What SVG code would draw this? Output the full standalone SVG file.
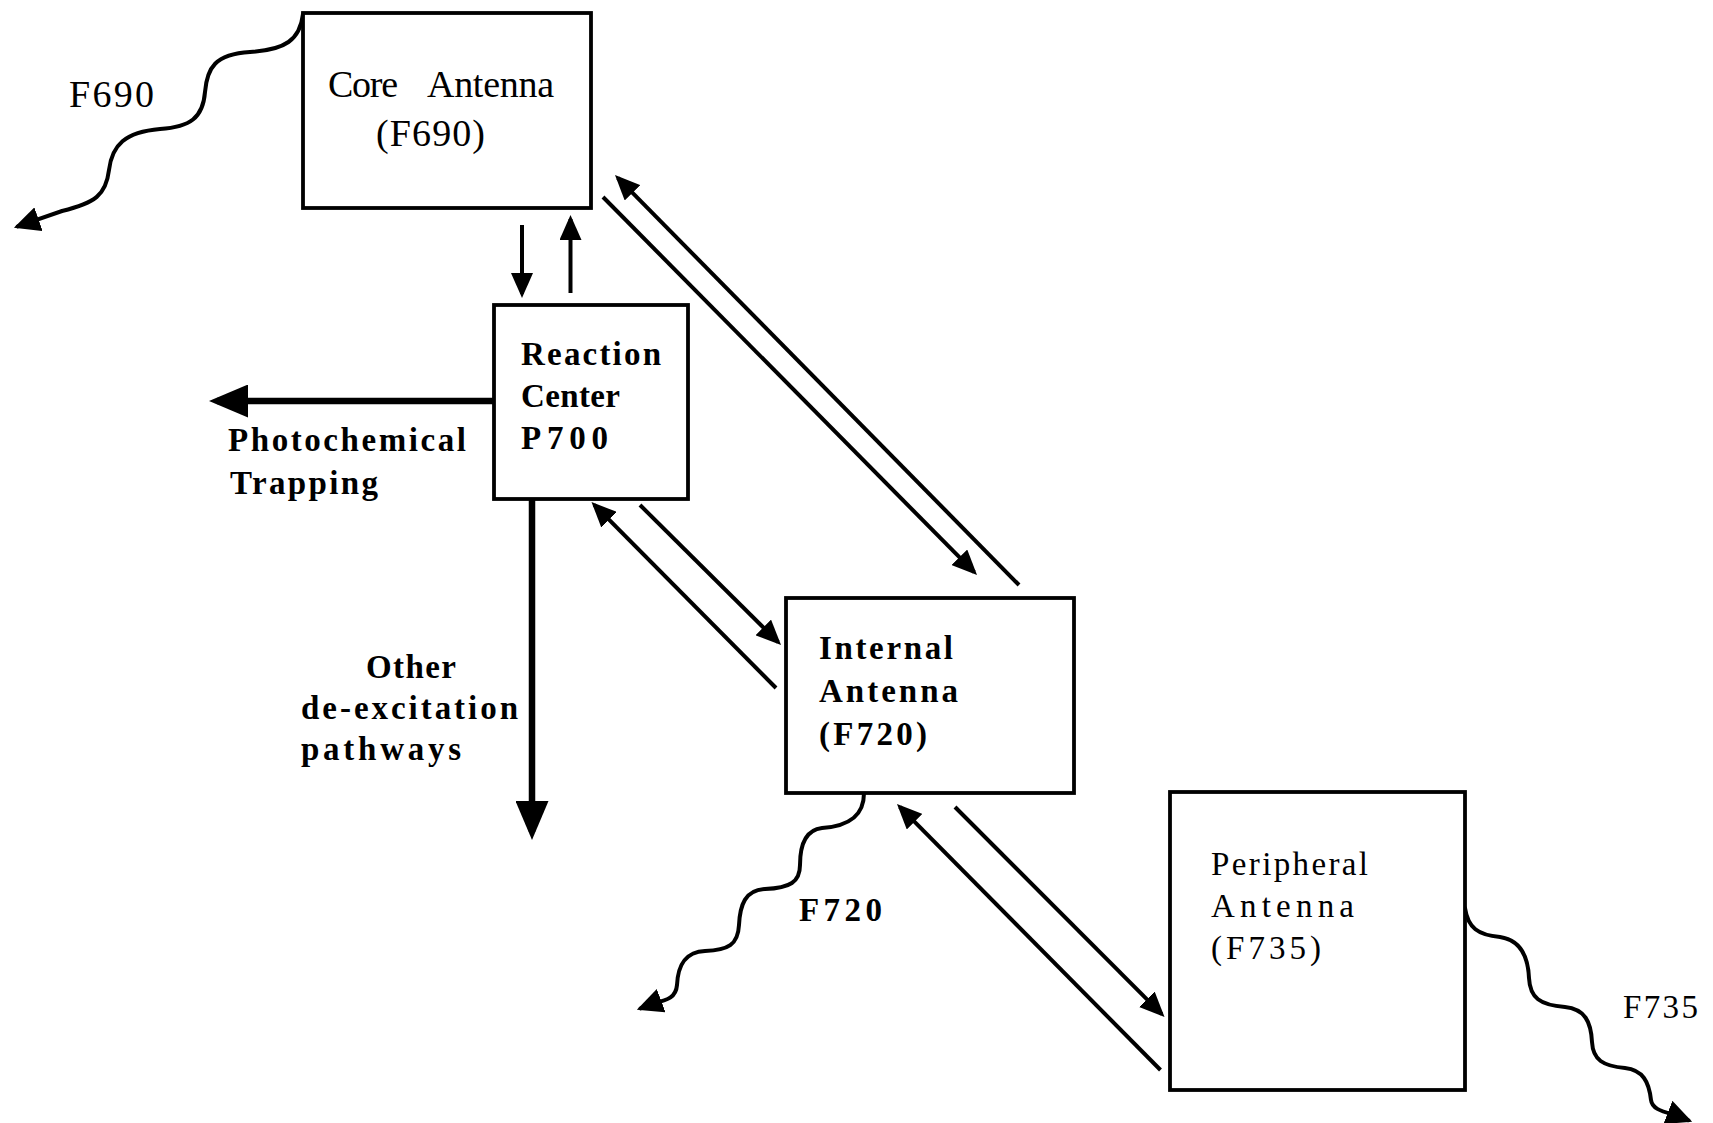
<svg xmlns="http://www.w3.org/2000/svg" width="1713" height="1123" viewBox="0 0 1713 1123">
<defs>
<marker id="ah" markerUnits="userSpaceOnUse" markerWidth="25" markerHeight="22" refX="21" refY="11" orient="auto" viewBox="0 0 25 22"><path d="M0,0 L25,11 L0,22 z" fill="#000"/></marker>
<marker id="ahw" markerUnits="userSpaceOnUse" markerWidth="26" markerHeight="25" refX="22" refY="12.5" orient="auto" viewBox="0 0 26 25"><path d="M0,0 L26,12.5 L0,25 z" fill="#000"/></marker>
<marker id="ahBig" markerUnits="userSpaceOnUse" markerWidth="39" markerHeight="33" refX="31" refY="16.5" orient="auto" viewBox="0 0 39 33"><path d="M0,0 L39,16.5 L0,33 z" fill="#000"/></marker>
<style>
.box{fill:#fff;stroke:#000;stroke-width:3.8}
.ln{fill:none;stroke:#000;stroke-width:4;marker-end:url(#ah)}
.thick{fill:none;stroke:#000;stroke-width:6.5;marker-end:url(#ahBig)}
.wave{fill:none;stroke:#000;stroke-width:4;stroke-linecap:round;marker-end:url(#ahw)}
.reg{font-family:"Liberation Serif","Times New Roman",serif;font-size:38px;fill:#000}
.lab{font-family:"Liberation Serif","Times New Roman",serif;font-size:33px;font-weight:bold;fill:#000}
.per{font-family:"Liberation Serif","Times New Roman",serif;font-size:33px;fill:#000}
</style>
</defs>
<rect width="1713" height="1123" fill="#fff"/>
<g id="connectors">
<line class="ln" x1="603" y1="197" x2="974.2" y2="572.2"/>
<line class="ln" x1="1019" y1="585" x2="617.8" y2="177.8"/>
<line class="ln" x1="640" y1="505" x2="778.2" y2="642.2"/>
<line class="ln" x1="776" y1="688" x2="594.3" y2="504.8"/>
<line class="ln" x1="955" y1="807" x2="1161.7" y2="1014.2"/>
<line class="ln" x1="1160.5" y1="1070" x2="899.8" y2="806.8"/>
<line class="ln" x1="522" y1="225" x2="522" y2="294"/>
<line class="ln" x1="570.5" y1="293" x2="570.5" y2="219"/>
<line class="thick" x1="494" y1="401" x2="217" y2="401"/>
<line class="thick" x1="532" y1="499" x2="532" y2="832"/>
<path class="wave" d="M303,14 C300,40 285,50 250,52 C215,54 207,68 205,92 C203,118 190,127 160,129 C125,132 112,145 109,170 C106,195 95,203 62,211 L17.7,226.4"/>
<path class="wave" d="M864,793 C864,815 850,826 822,828 C805,830 800,845 800,865 C800,882 790,888 765,889 C745,890 740,905 739,925 C738,945 728,950 705,951 C685,952 678,965 677,985 C676,997 668,1000 655,1003 L640.6,1008.4"/>
<path class="wave" d="M1465,908 C1468,928 1478,935 1500,937 C1520,940 1528,955 1529,978 C1530,998 1540,1005 1565,1007 C1585,1009 1591,1022 1592,1042 C1593,1060 1603,1066 1625,1068 C1643,1070 1649,1082 1651,1100 C1652,1108 1660,1111 1672,1114 L1688.4,1120.3"/>
</g>
<g id="core-antenna">
<rect class="box" x="303" y="13" width="288" height="195"/>
<text class="reg" x="328" y="97" textLength="70" lengthAdjust="spacing">Core</text>
<text class="reg" x="427" y="97" textLength="127" lengthAdjust="spacing">Antenna</text>
<text class="reg" x="376" y="146" textLength="109" lengthAdjust="spacing">(F690)</text>
</g>
<g id="f690-label">
<text class="reg" x="69" y="107" textLength="85" lengthAdjust="spacing">F690</text>
</g>
<g id="reaction-center">
<rect class="box" x="494" y="305" width="194" height="194"/>
<text class="lab" x="521" y="365" textLength="140" lengthAdjust="spacing">Reaction</text>
<text class="lab" x="521" y="407" textLength="99" lengthAdjust="spacing">Center</text>
<text class="lab" x="521" y="449" textLength="87" lengthAdjust="spacing">P700</text>
</g>
<g id="photochemical-label">
<text class="lab" x="228" y="451" textLength="238" lengthAdjust="spacing">Photochemical</text>
<text class="lab" x="230" y="494" textLength="148" lengthAdjust="spacing">Trapping</text>
</g>
<g id="other-label">
<text class="lab" x="366" y="678" textLength="90" lengthAdjust="spacing">Other</text>
<text class="lab" x="301" y="719" textLength="217" lengthAdjust="spacing">de-excitation</text>
<text class="lab" x="301" y="760" textLength="160" lengthAdjust="spacing">pathways</text>
</g>
<g id="internal-antenna">
<rect class="box" x="786" y="598" width="288" height="195"/>
<text class="lab" x="819" y="659" textLength="134" lengthAdjust="spacing">Internal</text>
<text class="lab" x="819" y="702" textLength="139" lengthAdjust="spacing">Antenna</text>
<text class="lab" x="819" y="745" textLength="108" lengthAdjust="spacing">(F720)</text>
</g>
<g id="f720-label">
<text class="lab" x="799" y="921" textLength="83" lengthAdjust="spacing">F720</text>
</g>
<g id="peripheral-antenna">
<rect class="box" x="1170" y="792" width="295" height="298"/>
<text class="per" x="1211" y="875" textLength="157" lengthAdjust="spacing">Peripheral</text>
<text class="per" x="1211" y="917" textLength="143" lengthAdjust="spacing">Antenna</text>
<text class="per" x="1211" y="959" textLength="110" lengthAdjust="spacing">(F735)</text>
</g>
<g id="f735-label">
<text class="per" x="1623" y="1018" textLength="75" lengthAdjust="spacing">F735</text>
</g>
</svg>
